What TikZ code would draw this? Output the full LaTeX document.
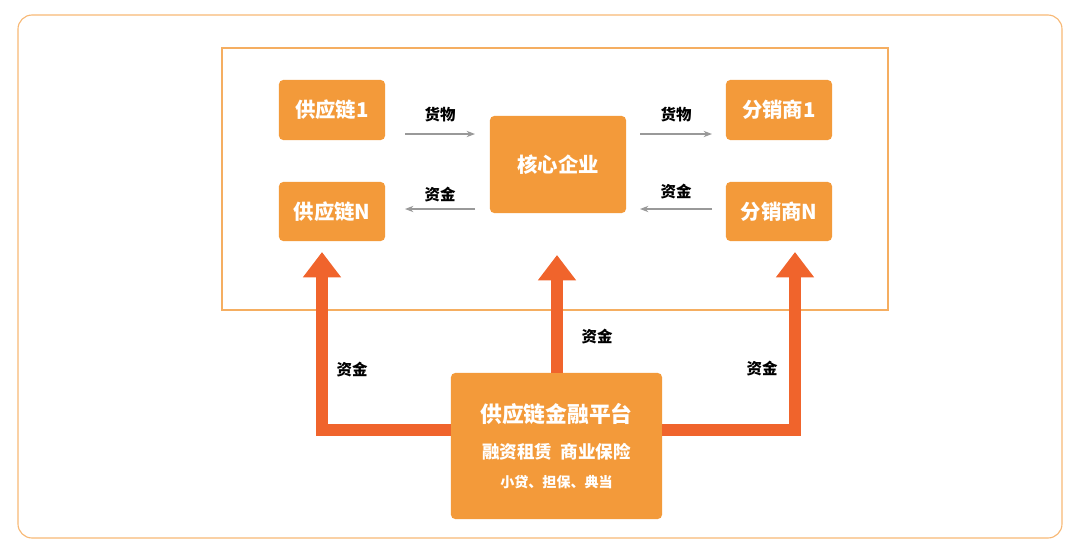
\documentclass[tikz,border=0pt]{standalone}
\usepackage{fontspec}
\setmainfont{Noto Sans CJK SC}
\usetikzlibrary{arrows.meta}
\definecolor{boxorange}{HTML}{F39A3A}
\definecolor{flowred}{HTML}{F0642C}
\tikzset{
  unit/.style = {fill=boxorange, rounded corners=3pt, text=white, font=\bfseries\fontsize{14.5}{16}\selectfont, inner sep=0pt},
  thin arrow/.style = {draw=gray!80, -{Stealth[length=6pt]}, line width=0.8pt},
  big arrow/.style = {draw=flowred, line width=9pt, -{Triangle[length=18pt,width=26pt]}},
  tag/.style = {font=\bfseries\fontsize{11}{13}\selectfont}
}
\begin{document}
\begin{tikzpicture}[x=0.025cm, y=-0.025cm]
\useasboundingbox (0,0) rectangle (1080,554);
%% frames
\draw [boxorange!70, line width=0.8pt, rounded corners=10pt] (18,15) rectangle (1062,538);
\draw [boxorange!80, line width=0.8pt] (222,48) rectangle (888,310);
%% units
\node [unit, minimum width=2.65cm, minimum height=1.5cm] (s1) at (332,110) {供应链1};
\node [unit, minimum width=2.65cm, minimum height=1.475cm] (sn) at (332,211.5) {供应链N};
\node [unit, minimum width=3.4cm, minimum height=2.425cm] (core) at (558,164.5) {核心企业};
\node [unit, minimum width=2.65cm, minimum height=1.5cm] (d1) at (779,110) {分销商1};
\node [unit, minimum width=2.65cm, minimum height=1.475cm] (dn) at (779,211.5) {分销商N};
\node [unit, minimum width=5.275cm, minimum height=3.65cm] (plat) at (556.5,446) {};
\node [text=white, font=\bfseries\fontsize{15.5}{17}\selectfont] (pt) at (556.5,414) {供应链金融平台};
\node [text=white, font=\bfseries\fontsize{12.5}{14}\selectfont] (pm) at (556.5,452) {融资租赁\ \ 商业保险};
\node [text=white, font=\bfseries\fontsize{10}{12}\selectfont] (pb) at (556.5,482) {小贷、担保、典当};
%% small flows
\coordinate (a1) at (405,134); \coordinate (a2) at (475,134);
\coordinate (b1) at (475,209); \coordinate (b2) at (405,209);
\coordinate (c1) at (640,134); \coordinate (c2) at (712,134);
\coordinate (e1) at (712,209); \coordinate (e2) at (640,209);
\draw [thin arrow] (a1) -- (a2);
\draw [thin arrow] (b1) -- (b2);
\draw [thin arrow] (c1) -- (c2);
\draw [thin arrow] (e1) -- (e2);
\node [tag] (ta) at (440,115) {货物};
\node [tag] (tb) at (440,195) {资金};
\node [tag] (tc) at (676,115) {货物};
\node [tag] (te) at (676,192) {资金};
%% money flows
\coordinate (l0) at (451,430); \coordinate (l1) at (322,430); \coordinate (l2) at (322,252);
\coordinate (m0) at (557,373); \coordinate (m2) at (557,255);
\coordinate (r0) at (662,430); \coordinate (r1) at (795,430); \coordinate (r2) at (795,252);
\draw [big arrow] (l0) -- (l1) -- (l2);
\draw [big arrow] (m0) -- (m2);
\draw [big arrow] (r0) -- (r1) -- (r2);
\node [tag] (tl) at (352,370) {资金};
\node [tag] (tm) at (597,337) {资金};
\node [tag] (tr) at (762,369) {资金};
\end{tikzpicture}
\end{document}
